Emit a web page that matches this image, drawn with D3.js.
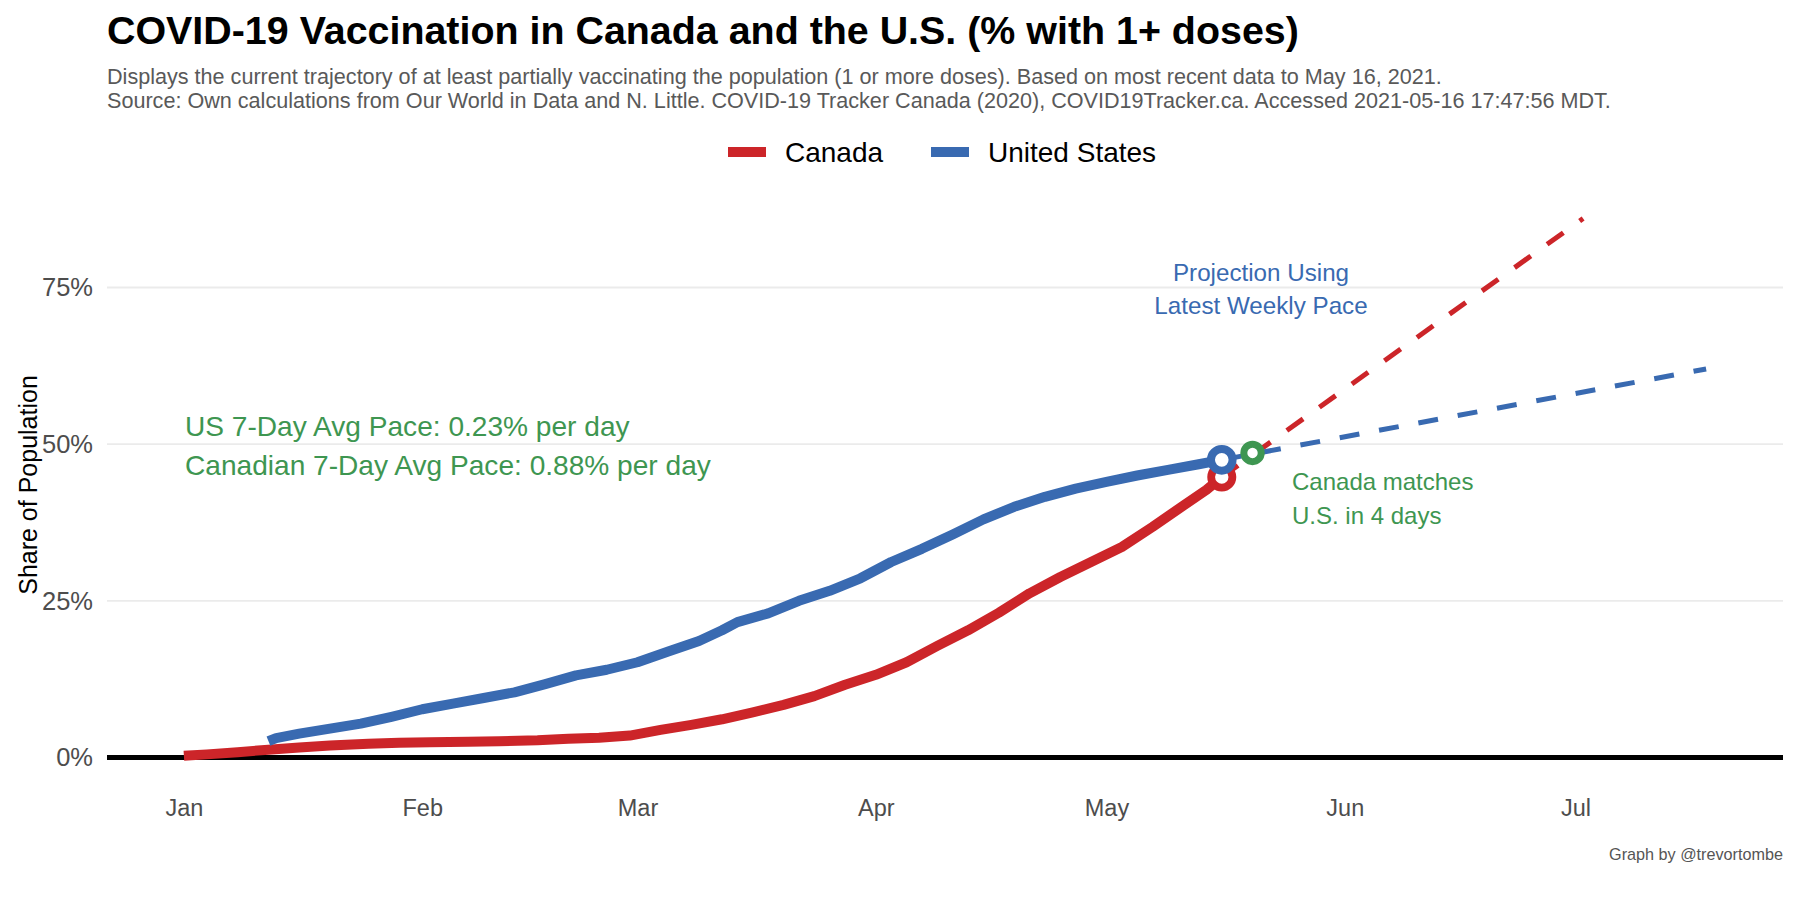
<!DOCTYPE html>
<html>
<head>
<meta charset="utf-8">
<script src="https://cdn.jsdelivr.net/npm/d3@7"></script>
<style>
  body { margin: 0; background: #fff; }
  svg { display: block; font-family: "Liberation Sans", Arial, sans-serif; }
</style>
</head>
<body>
<svg id="chart" width="1800" height="900"></svg>
<script>
// ---- data (share of population with 1+ doses, %) ----
const canadaDates = ["2021-01-01","2021-01-04","2021-01-08","2021-01-12","2021-01-16","2021-01-20","2021-01-25","2021-01-29",
  "2021-02-02","2021-02-07","2021-02-11","2021-02-16","2021-02-20","2021-02-24","2021-02-28","2021-03-04","2021-03-08",
  "2021-03-12","2021-03-16","2021-03-20","2021-03-24","2021-03-28","2021-04-01","2021-04-05","2021-04-09","2021-04-13",
  "2021-04-17","2021-04-21","2021-04-25","2021-04-29","2021-05-03","2021-05-07","2021-05-11","2021-05-14","2021-05-16"];
const canadaValues = [0.27,0.5,0.85,1.25,1.6,1.9,2.2,2.35,2.45,2.5,2.6,2.75,3.0,3.15,3.5,4.4,5.2,6.1,7.2,8.4,9.8,11.6,
  13.2,15.2,17.8,20.3,23.1,26.2,28.8,31.2,33.6,36.8,40.2,42.7,44.75];

const usDates = ["2021-01-12","2021-01-13","2021-01-16","2021-01-20","2021-01-24","2021-01-28","2021-02-01","2021-02-05",
  "2021-02-09","2021-02-13","2021-02-17","2021-02-21","2021-02-25","2021-03-01","2021-03-05","2021-03-09","2021-03-12",
  "2021-03-14","2021-03-18","2021-03-22","2021-03-26","2021-03-30","2021-04-03","2021-04-07","2021-04-11","2021-04-15",
  "2021-04-19","2021-04-23","2021-04-27","2021-05-01","2021-05-05","2021-05-09","2021-05-13","2021-05-16"];
const usValues = [2.6,3.1,3.8,4.6,5.4,6.5,7.7,8.6,9.5,10.4,11.7,13.1,14.0,15.2,16.9,18.6,20.3,21.6,23.0,25.0,26.6,28.6,
  31.2,33.3,35.6,38.0,40.0,41.6,42.9,44.0,45.0,45.9,46.8,47.5];

// projections at latest weekly pace (start and end)
const canadaProjDates = ["2021-05-16","2021-07-02"];
const canadaProjValues = [44.75, 86.0];
const usProjDates = ["2021-05-16","2021-07-18"];
const usProjValues = [47.5, 62.0];

// date Canada catches up
const matchDate = "2021-05-20";
const matchValue = 48.6;

const yTicks = [0, 25, 50, 75];
const monthTicks = ["2021-01-01","2021-02-01","2021-03-01","2021-04-01","2021-05-01","2021-06-01","2021-07-01"];
const monthLabels = ["Jan","Feb","Mar","Apr","May","Jun","Jul"];

const seriesNames = ["Canada", "United States"];
const colors = { "Canada": "#CC2529", "United States": "#396AB1" };
const green = "#3E9651";

// ---- setup ----
const parse = d3.utcParse("%Y-%m-%d");
const zip = (ds, vs) => ds.map((d, i) => ({ date: parse(d), value: vs[i] }));
const canada = zip(canadaDates, canadaValues);
const us = zip(usDates, usValues);
const canadaProj = zip(canadaProjDates, canadaProjValues);
const usProj = zip(usProjDates, usProjValues);

const svg = d3.select("#chart");
const panel = { left: 107, right: 1783 };

const x = d3.scaleUtc()
  .domain([parse("2020-12-22"), parse("2021-07-28")])
  .range([panel.left, panel.right]);
const y = d3.scaleLinear()
  .domain([0, 75])
  .range([757.5, 287.5]);

// title + subtitle
svg.append("text")
  .attr("x", 107).attr("y", 44)
  .attr("font-size", 39.4).attr("font-weight", "bold").attr("fill", "#000")
  .text("COVID-19 Vaccination in Canada and the U.S. (% with 1+ doses)");
const sub = svg.append("text")
  .attr("font-size", 21.6).attr("fill", "#595959");
sub.append("tspan").attr("x", 107).attr("y", 84)
  .text("Displays the current trajectory of at least partially vaccinating the population (1 or more doses). Based on most recent data to May 16, 2021.");
sub.append("tspan").attr("x", 107).attr("y", 108)
  .text("Source: Own calculations from Our World in Data and N. Little. COVID-19 Tracker Canada (2020), COVID19Tracker.ca. Accessed 2021-05-16 17:47:56 MDT.");

// legend
const legendX = [728, 931];
const legend = svg.append("g").selectAll("g")
  .data(seriesNames)
  .join("g")
  .attr("transform", (d, i) => `translate(${legendX[i]},152)`);
legend.append("line")
  .attr("x1", 0).attr("x2", 38)
  .attr("stroke", d => colors[d]).attr("stroke-width", 10);
legend.append("text")
  .attr("x", 57).attr("y", 9.5)
  .attr("font-size", 28).attr("fill", "#000")
  .text(d => d);

// grid
svg.append("g").selectAll("line")
  .data(yTicks.filter(d => d > 0))
  .join("line")
  .attr("x1", panel.left).attr("x2", panel.right)
  .attr("y1", d => y(d)).attr("y2", d => y(d))
  .attr("stroke", "#ebebeb").attr("stroke-width", 1.8);

// y axis labels
const yAxis = svg.append("g")
  .attr("transform", `translate(${panel.left - 14},0)`)
  .call(d3.axisLeft(y).tickValues(yTicks).tickFormat(d => d + "%").tickSize(0).tickPadding(0));
yAxis.select(".domain").remove();
yAxis.selectAll("text")
  .attr("font-size", 25.5).attr("fill", "#4d4d4d")
  .attr("font-family", "Liberation Sans, Arial, sans-serif");

// x axis labels
const xAxis = svg.append("g")
  .attr("transform", "translate(0,799)")
  .call(d3.axisBottom(x).tickValues(monthTicks.map(parse))
    .tickFormat((d, i) => monthLabels[i]).tickSize(0).tickPadding(0));
xAxis.select(".domain").remove();
xAxis.selectAll("text")
  .attr("dy", "0.71em")
  .attr("font-size", 23.5).attr("fill", "#4d4d4d")
  .attr("font-family", "Liberation Sans, Arial, sans-serif");

// y title
svg.append("text")
  .attr("transform", "translate(37,485) rotate(-90)")
  .attr("text-anchor", "middle")
  .attr("font-size", 25).attr("fill", "#000")
  .text("Share of Population");

// zero line
svg.append("line")
  .attr("x1", panel.left).attr("x2", panel.right)
  .attr("y1", y(0)).attr("y2", y(0))
  .attr("stroke", "#000").attr("stroke-width", 5);

const line = d3.line().x(d => x(d.date)).y(d => y(d.value));

// projections
svg.append("path").datum(canadaProj)
  .attr("d", line).attr("fill", "none")
  .attr("stroke", colors["Canada"]).attr("stroke-width", 5)
  .attr("stroke-dasharray", "20,20");
svg.append("path").datum(usProj)
  .attr("d", line).attr("fill", "none")
  .attr("stroke", colors["United States"]).attr("stroke-width", 5)
  .attr("stroke-dasharray", "20,20");

// actual series
svg.append("path").datum(canada)
  .attr("d", line).attr("fill", "none")
  .attr("stroke", colors["Canada"]).attr("stroke-width", 10)
  .attr("stroke-linejoin", "round");
svg.append("path").datum(us)
  .attr("d", line).attr("fill", "none")
  .attr("stroke", colors["United States"]).attr("stroke-width", 10)
  .attr("stroke-linejoin", "round");

// end points
const lastC = canada[canada.length - 1];
const lastU = us[us.length - 1];
svg.append("circle")
  .attr("cx", x(lastC.date)).attr("cy", y(lastC.value)).attr("r", 10.6)
  .attr("fill", "#fff").attr("stroke", colors["Canada"]).attr("stroke-width", 7.8);
svg.append("circle")
  .attr("cx", x(lastU.date)).attr("cy", y(lastU.value)).attr("r", 10.8)
  .attr("fill", "#fff").attr("stroke", colors["United States"]).attr("stroke-width", 8);
svg.append("circle")
  .attr("cx", x(parse(matchDate))).attr("cy", y(matchValue)).attr("r", 8.7)
  .attr("fill", "#fff").attr("stroke", green).attr("stroke-width", 7);

// annotations
const ann = svg.append("g").attr("font-size", 28.1).attr("fill", green);
ann.append("text").attr("x", 185).attr("y", 436).text("US 7-Day Avg Pace: 0.23% per day");
ann.append("text").attr("x", 185).attr("y", 475).text("Canadian 7-Day Avg Pace: 0.88% per day");

const proj = svg.append("g").attr("font-size", 24.2).attr("fill", colors["United States"]).attr("text-anchor", "middle");
proj.append("text").attr("x", 1261).attr("y", 281).text("Projection Using");
proj.append("text").attr("x", 1261).attr("y", 314).text("Latest Weekly Pace");

const match = svg.append("g").attr("font-size", 24).attr("fill", green);
match.append("text").attr("x", 1292).attr("y", 490).text("Canada matches");
match.append("text").attr("x", 1292).attr("y", 524).text("U.S. in 4 days");

// caption
svg.append("text")
  .attr("x", 1783).attr("y", 860)
  .attr("text-anchor", "end")
  .attr("font-size", 16.2).attr("fill", "#555")
  .text("Graph by @trevortombe");
</script>
</body>
</html>
